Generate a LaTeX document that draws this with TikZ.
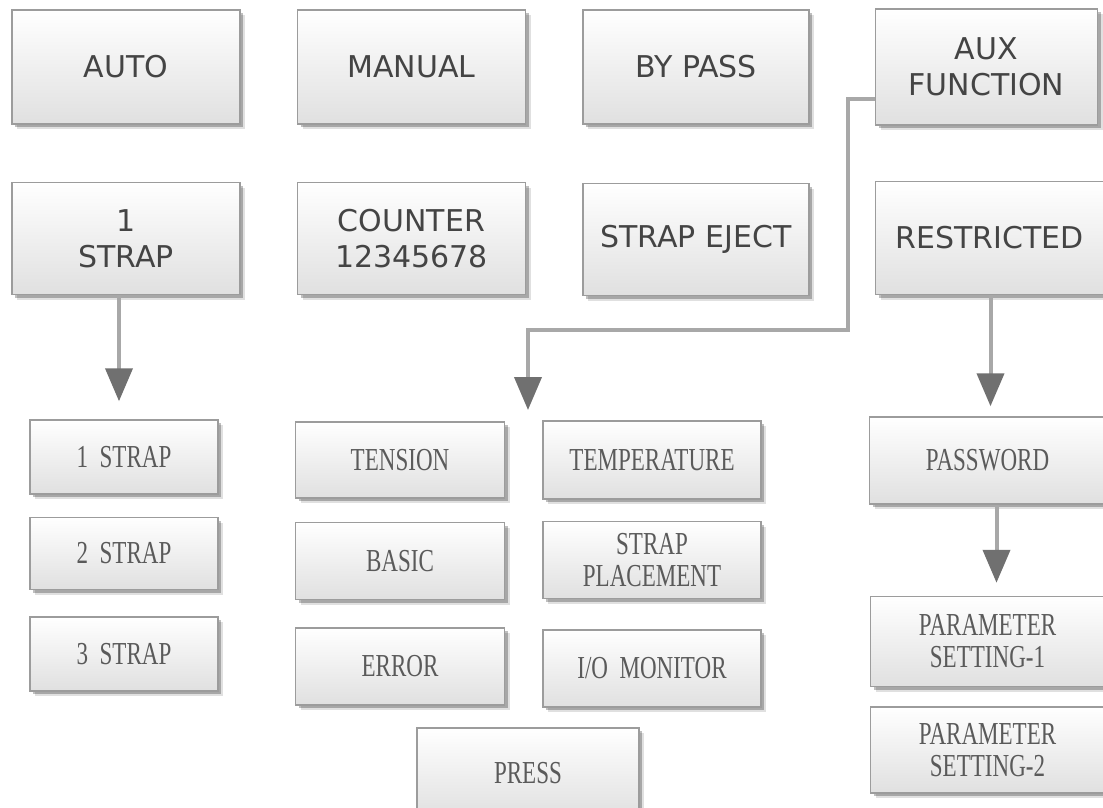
\documentclass[tikz,border=0pt]{standalone}
\usepackage{fontspec}
\newfontfamily\menusans{DejaVu Sans}
\newfontfamily\menuserif[FakeStretch=0.72]{Liberation Serif}
\usetikzlibrary{positioning,shadows,arrows.meta}
\definecolor{boxline}{HTML}{9C9C9C}
\definecolor{boxbottom}{HTML}{E0E0E0}
\definecolor{linkgrey}{HTML}{A8A8A8}
\definecolor{tipgrey}{HTML}{707070}
\definecolor{sanstext}{HTML}{444444}
\definecolor{seriftext}{HTML}{5A5A5A}
\tikzset{
  menubox/.style={draw=boxline, line width=1.5pt, top color=white, bottom color=boxbottom,
    drop shadow={shadow xshift=5pt, shadow yshift=-5pt, fill=black, opacity=0.12},
    drop shadow={shadow xshift=3pt, shadow yshift=-3pt, fill=black, opacity=0.25},
    align=center, inner sep=0pt},
  mainbox/.style={menubox, minimum width=228pt, minimum height=114pt, text=sanstext,
    font=\menusans\fontsize{30}{36}\selectfont},
  subbox/.style={menubox, text=seriftext, font=\menuserif\fontsize{32}{32}\selectfont},
  link/.style={draw=linkgrey, line width=4pt, -{Triangle[width=27pt,length=33pt,color=tipgrey]}},
}

\begin{document}
\begin{tikzpicture}[x=1pt, y=-1pt]
  \useasboundingbox (0,0) rectangle (1103,808);
  \clip (0,0) rectangle (1103,808);
  \fill[white] (0,0) rectangle (1103,808);

  % top menu
  \node[mainbox] (auto) at (126,67) {AUTO};
  \node[mainbox] (manual) [right=56pt of auto] {MANUAL};
  \node[mainbox, minimum width=226pt] (bypass) [right=56pt of manual] {BY PASS};
  \node[mainbox, minimum width=222pt, minimum height=116pt] (aux) [right=65pt of bypass] {AUX\\FUNCTION};

  \node[mainbox, minimum height=112pt] (strap) [below=57pt of auto] {1\\STRAP};
  \node[mainbox, minimum height=112pt] (counter) [below=57pt of manual] {COUNTER\\12345678};
  \node[mainbox, minimum width=226pt, minimum height=112pt] (eject) [below=58pt of bypass] {STRAP EJECT};
  \node[mainbox, minimum height=113pt, xshift=3pt] (restricted) [below=55pt of aux] {RESTRICTED};

  % strap count
  \node[subbox, minimum width=188pt, minimum height=74pt] (strap1) at (124,457) {1~~STRAP};
  \node[subbox, minimum width=188pt, minimum height=72pt] (strap2) [below=22pt of strap1] {2~~STRAP};
  \node[subbox, minimum width=188pt, minimum height=74pt] (strap3) [below=26pt of strap2] {3~~STRAP};

  % aux functions
  \node[subbox, minimum width=209pt, minimum height=76pt] (tension) at (400,460) {TENSION};
  \node[subbox, minimum width=209pt, minimum height=77pt] (basic) [below=23pt of tension] {BASIC};
  \node[subbox, minimum width=209pt, minimum height=77pt] (error) [below=27pt of basic] {ERROR};
  \node[subbox, minimum width=218pt, minimum height=78pt] (temp) [right=37pt of tension] {TEMPERATURE};
  \node[subbox, minimum width=218pt, minimum height=77pt] (placement) [below=21pt of temp] {STRAP\\PLACEMENT};
  \node[subbox, minimum width=218pt, minimum height=77pt] (monitor) [below=30pt of placement] {I/O~~MONITOR};
  \node[subbox, minimum width=222pt, minimum height=90pt] (press) at (528,773) {PRESS};

  % restricted
  \node[subbox, minimum width=236pt, minimum height=87pt, xshift=-2pt] (password) [below=121pt of restricted] {PASSWORD};
  \node[subbox, minimum width=234pt, minimum height=90pt] (param1) [below=91pt of password] {PARAMETER\\SETTING-1};
  \node[subbox, minimum width=234pt, minimum height=86pt] (param2) [below=19pt of param1] {PARAMETER\\SETTING-2};

  \coordinate (auxbend) at (848,330);
  \coordinate (auxdrop) at (528,410);

  \draw[link, shorten >=18pt] ([xshift=-7pt]strap.south) -- ([xshift=-5pt]strap1.north);
  \draw[link] ([yshift=-32pt]aux.west) -| (auxbend) -| (auxdrop);
  \draw[link, shorten >=10pt] ([xshift=1pt]restricted.south) -- ([xshift=3pt]password.north);
  \draw[link, shorten >=13pt] ([xshift=9pt]password.south) -- ([xshift=9pt]param1.north);
\end{tikzpicture}
\end{document}
